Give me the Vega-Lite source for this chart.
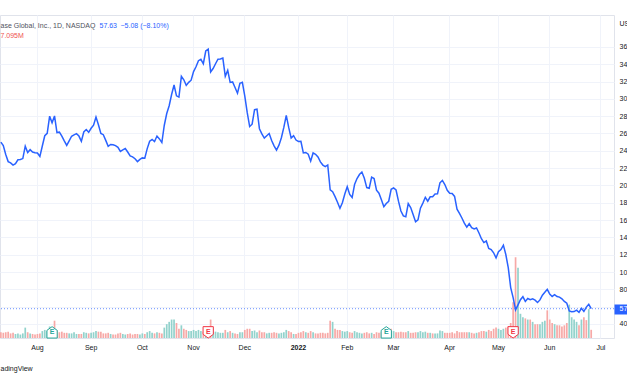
{
  "$schema": "https://vega.github.io/schema/vega-lite/v6.json",
  "autosize": {"type": "none"},
  "width": 614,
  "height": 323,
  "padding": {"left": 0, "top": 15, "right": 13, "bottom": 38},
  "background": "white",
  "config": {
    "font": "Liberation Sans",
    "view": {"stroke": "#e0e3eb", "strokeWidth": 1},
    "axis": {"labelFont": "Liberation Sans", "titleFont": "Liberation Sans"}
  },
  "title": {"text": "ed on TradingView.com, Jun 27, 2022 15:17 UTC", "anchor": "start", "frame": "group", "fontSize": 7, "fontWeight": "normal", "color": "#50535e", "offset": 0, "dy": -3},
  "datasets": {
    "last": [{"c": 57.63}],
    "earn": [
      {"d": "2021-08-10", "r": "beat"},
      {"d": "2021-11-09", "r": "miss"},
      {"d": "2022-02-24", "r": "beat"},
      {"d": "2022-05-10", "r": "miss"}
    ],
    "px": [
      {"d":"2021-07-12","c":250,"v":5,"s":"d"},
      {"d":"2021-07-13","c":246,"v":4.5,"s":"d"},
      {"d":"2021-07-14","c":235.7,"v":5,"s":"d"},
      {"d":"2021-07-15","c":227.5,"v":5.5,"s":"d"},
      {"d":"2021-07-16","c":226,"v":4,"s":"d"},
      {"d":"2021-07-19","c":223.5,"v":4.5,"s":"d"},
      {"d":"2021-07-20","c":225.1,"v":3.5,"s":"u"},
      {"d":"2021-07-21","c":229.6,"v":4,"s":"u"},
      {"d":"2021-07-22","c":229.9,"v":3,"s":"u"},
      {"d":"2021-07-23","c":231,"v":4,"s":"u"},
      {"d":"2021-07-26","c":245.3,"v":9,"s":"u"},
      {"d":"2021-07-27","c":238,"v":5,"s":"d"},
      {"d":"2021-07-28","c":241.3,"v":4,"s":"u"},
      {"d":"2021-07-29","c":238.5,"v":3.5,"s":"d"},
      {"d":"2021-07-30","c":237.8,"v":3,"s":"d"},
      {"d":"2021-08-02","c":237.4,"v":3.5,"s":"d"},
      {"d":"2021-08-03","c":233.4,"v":4,"s":"d"},
      {"d":"2021-08-04","c":245.5,"v":6,"s":"u"},
      {"d":"2021-08-05","c":257.4,"v":7,"s":"u"},
      {"d":"2021-08-06","c":260.2,"v":6,"s":"u"},
      {"d":"2021-08-09","c":280,"v":10,"s":"u"},
      {"d":"2021-08-10","c":272.4,"v":8,"s":"d"},
      {"d":"2021-08-11","c":280.2,"v":15,"s":"d"},
      {"d":"2021-08-12","c":261,"v":7,"s":"d"},
      {"d":"2021-08-13","c":261.5,"v":5,"s":"d"},
      {"d":"2021-08-16","c":257,"v":5.5,"s":"d"},
      {"d":"2021-08-17","c":251.5,"v":4.5,"s":"d"},
      {"d":"2021-08-18","c":246.3,"v":4.5,"s":"d"},
      {"d":"2021-08-19","c":251.5,"v":4,"s":"u"},
      {"d":"2021-08-20","c":256.8,"v":4,"s":"u"},
      {"d":"2021-08-23","c":258.4,"v":5,"s":"u"},
      {"d":"2021-08-24","c":259.8,"v":3.5,"s":"u"},
      {"d":"2021-08-25","c":257,"v":3.5,"s":"d"},
      {"d":"2021-08-26","c":251,"v":3.5,"s":"d"},
      {"d":"2021-08-27","c":261.7,"v":5,"s":"u"},
      {"d":"2021-08-30","c":264.5,"v":4.5,"s":"u"},
      {"d":"2021-08-31","c":261.3,"v":4,"s":"d"},
      {"d":"2021-09-01","c":266,"v":4.5,"s":"u"},
      {"d":"2021-09-02","c":269.5,"v":5,"s":"u"},
      {"d":"2021-09-03","c":279,"v":6,"s":"u"},
      {"d":"2021-09-07","c":270,"v":5.5,"s":"d"},
      {"d":"2021-09-08","c":260,"v":5.5,"s":"d"},
      {"d":"2021-09-09","c":258.6,"v":4,"s":"d"},
      {"d":"2021-09-10","c":252,"v":4,"s":"d"},
      {"d":"2021-09-13","c":245.2,"v":4.5,"s":"d"},
      {"d":"2021-09-14","c":247.3,"v":3.5,"s":"u"},
      {"d":"2021-09-15","c":247,"v":3,"s":"d"},
      {"d":"2021-09-16","c":246,"v":3,"s":"d"},
      {"d":"2021-09-17","c":244,"v":4,"s":"d"},
      {"d":"2021-09-20","c":239.3,"v":4.5,"s":"d"},
      {"d":"2021-09-21","c":241,"v":3.5,"s":"u"},
      {"d":"2021-09-22","c":242.6,"v":3,"s":"u"},
      {"d":"2021-09-23","c":238.6,"v":3.5,"s":"d"},
      {"d":"2021-09-24","c":234,"v":4,"s":"d"},
      {"d":"2021-09-27","c":233,"v":3,"s":"d"},
      {"d":"2021-09-28","c":230.8,"v":3.5,"s":"d"},
      {"d":"2021-09-29","c":227.5,"v":3.5,"s":"d"},
      {"d":"2021-09-30","c":230,"v":3,"s":"u"},
      {"d":"2021-10-01","c":231.8,"v":4,"s":"u"},
      {"d":"2021-10-04","c":231.5,"v":3.5,"s":"d"},
      {"d":"2021-10-05","c":242.5,"v":5,"s":"u"},
      {"d":"2021-10-06","c":251,"v":6,"s":"u"},
      {"d":"2021-10-07","c":253,"v":4.5,"s":"u"},
      {"d":"2021-10-08","c":250.6,"v":4,"s":"d"},
      {"d":"2021-10-11","c":257,"v":5,"s":"u"},
      {"d":"2021-10-12","c":253.7,"v":4.5,"s":"d"},
      {"d":"2021-10-13","c":249.5,"v":4,"s":"d"},
      {"d":"2021-10-14","c":269.5,"v":9,"s":"u"},
      {"d":"2021-10-15","c":283,"v":12,"s":"u"},
      {"d":"2021-10-18","c":292,"v":14,"s":"u"},
      {"d":"2021-10-19","c":305,"v":16,"s":"u"},
      {"d":"2021-10-20","c":316,"v":16,"s":"u"},
      {"d":"2021-10-21","c":303.5,"v":13,"s":"d"},
      {"d":"2021-10-22","c":302,"v":8,"s":"d"},
      {"d":"2021-10-25","c":326,"v":11,"s":"u"},
      {"d":"2021-10-26","c":322,"v":8,"s":"d"},
      {"d":"2021-10-27","c":315.5,"v":7,"s":"d"},
      {"d":"2021-10-28","c":319,"v":6,"s":"u"},
      {"d":"2021-10-29","c":321.5,"v":6,"s":"u"},
      {"d":"2021-11-01","c":331.5,"v":7,"s":"u"},
      {"d":"2021-11-02","c":337,"v":6,"s":"u"},
      {"d":"2021-11-03","c":344,"v":7,"s":"u"},
      {"d":"2021-11-04","c":345.6,"v":6,"s":"u"},
      {"d":"2021-11-05","c":340.5,"v":5.5,"s":"d"},
      {"d":"2021-11-08","c":355.2,"v":7,"s":"u"},
      {"d":"2021-11-09","c":357.4,"v":8,"s":"u"},
      {"d":"2021-11-10","c":331,"v":16,"s":"d"},
      {"d":"2021-11-11","c":335,"v":8,"s":"u"},
      {"d":"2021-11-12","c":340.5,"v":5.5,"s":"u"},
      {"d":"2021-11-15","c":345.8,"v":5,"s":"u"},
      {"d":"2021-11-16","c":346,"v":4.5,"s":"u"},
      {"d":"2021-11-17","c":347,"v":4.5,"s":"u"},
      {"d":"2021-11-18","c":326,"v":7,"s":"d"},
      {"d":"2021-11-19","c":333,"v":5,"s":"u"},
      {"d":"2021-11-22","c":319,"v":6,"s":"d"},
      {"d":"2021-11-23","c":319.5,"v":4.5,"s":"u"},
      {"d":"2021-11-24","c":313,"v":4,"s":"d"},
      {"d":"2021-11-26","c":306.5,"v":3.5,"s":"d"},
      {"d":"2021-11-29","c":318,"v":5,"s":"u"},
      {"d":"2021-11-30","c":319,"v":5,"s":"u"},
      {"d":"2021-12-01","c":303,"v":7,"s":"d"},
      {"d":"2021-12-02","c":284,"v":8,"s":"d"},
      {"d":"2021-12-03","c":268,"v":8,"s":"d"},
      {"d":"2021-12-06","c":270.7,"v":6,"s":"u"},
      {"d":"2021-12-07","c":287.5,"v":6.5,"s":"u"},
      {"d":"2021-12-08","c":288,"v":5,"s":"u"},
      {"d":"2021-12-09","c":265.5,"v":6.5,"s":"d"},
      {"d":"2021-12-10","c":259.5,"v":5,"s":"d"},
      {"d":"2021-12-13","c":254.6,"v":5,"s":"d"},
      {"d":"2021-12-14","c":257.4,"v":4,"s":"u"},
      {"d":"2021-12-15","c":260,"v":4.5,"s":"u"},
      {"d":"2021-12-16","c":251.8,"v":4.5,"s":"d"},
      {"d":"2021-12-17","c":245.7,"v":5,"s":"d"},
      {"d":"2021-12-20","c":240.8,"v":4.5,"s":"d"},
      {"d":"2021-12-21","c":246.5,"v":4,"s":"u"},
      {"d":"2021-12-22","c":255,"v":4.5,"s":"u"},
      {"d":"2021-12-23","c":267,"v":5,"s":"u"},
      {"d":"2021-12-27","c":281,"v":7,"s":"u"},
      {"d":"2021-12-28","c":267,"v":6,"s":"d"},
      {"d":"2021-12-29","c":254.7,"v":5,"s":"d"},
      {"d":"2021-12-30","c":257.5,"v":3.5,"s":"u"},
      {"d":"2021-12-31","c":252.4,"v":3.5,"s":"d"},
      {"d":"2022-01-03","c":250.8,"v":4.5,"s":"d"},
      {"d":"2022-01-04","c":251,"v":5,"s":"d"},
      {"d":"2022-01-05","c":237.5,"v":6,"s":"d"},
      {"d":"2022-01-06","c":238,"v":5,"s":"u"},
      {"d":"2022-01-07","c":236,"v":4.5,"s":"d"},
      {"d":"2022-01-10","c":228,"v":6,"s":"d"},
      {"d":"2022-01-11","c":237.5,"v":5,"s":"u"},
      {"d":"2022-01-12","c":236,"v":4,"s":"d"},
      {"d":"2022-01-13","c":232.8,"v":4,"s":"d"},
      {"d":"2022-01-14","c":227.2,"v":4.5,"s":"d"},
      {"d":"2022-01-18","c":223.5,"v":4.5,"s":"d"},
      {"d":"2022-01-19","c":221.8,"v":4,"s":"d"},
      {"d":"2022-01-20","c":223.6,"v":4.5,"s":"d"},
      {"d":"2022-01-21","c":195,"v":15,"s":"d"},
      {"d":"2022-01-24","c":192.7,"v":14,"s":"u"},
      {"d":"2022-01-25","c":187,"v":8,"s":"d"},
      {"d":"2022-01-26","c":180.5,"v":7,"s":"d"},
      {"d":"2022-01-27","c":173.5,"v":7,"s":"d"},
      {"d":"2022-01-28","c":180,"v":6,"s":"u"},
      {"d":"2022-01-31","c":190,"v":5.5,"s":"u"},
      {"d":"2022-02-01","c":198.5,"v":6,"s":"u"},
      {"d":"2022-02-02","c":189.6,"v":5,"s":"d"},
      {"d":"2022-02-03","c":186,"v":4.5,"s":"d"},
      {"d":"2022-02-04","c":201,"v":6,"s":"u"},
      {"d":"2022-02-07","c":208,"v":5,"s":"u"},
      {"d":"2022-02-08","c":212.6,"v":4.5,"s":"u"},
      {"d":"2022-02-09","c":215.5,"v":4,"s":"u"},
      {"d":"2022-02-10","c":208.2,"v":4.5,"s":"d"},
      {"d":"2022-02-11","c":197.5,"v":5,"s":"d"},
      {"d":"2022-02-14","c":196.7,"v":4,"s":"d"},
      {"d":"2022-02-15","c":209.6,"v":4.5,"s":"u"},
      {"d":"2022-02-16","c":208,"v":3.5,"s":"d"},
      {"d":"2022-02-17","c":194.5,"v":5,"s":"d"},
      {"d":"2022-02-18","c":191,"v":4.5,"s":"d"},
      {"d":"2022-02-22","c":183.5,"v":5,"s":"d"},
      {"d":"2022-02-23","c":175.4,"v":6,"s":"d"},
      {"d":"2022-02-24","c":179.2,"v":8,"s":"u"},
      {"d":"2022-02-25","c":181.7,"v":7,"s":"u"},
      {"d":"2022-02-28","c":195.5,"v":8,"s":"d"},
      {"d":"2022-03-01","c":197.2,"v":6,"s":"u"},
      {"d":"2022-03-02","c":194.7,"v":5,"s":"d"},
      {"d":"2022-03-03","c":181.8,"v":5,"s":"d"},
      {"d":"2022-03-04","c":170.4,"v":5.5,"s":"d"},
      {"d":"2022-03-07","c":164.8,"v":5,"s":"d"},
      {"d":"2022-03-08","c":163.9,"v":5,"s":"d"},
      {"d":"2022-03-09","c":179.1,"v":6,"s":"u"},
      {"d":"2022-03-10","c":174.5,"v":4.5,"s":"d"},
      {"d":"2022-03-11","c":166.3,"v":4.5,"s":"d"},
      {"d":"2022-03-14","c":158,"v":5,"s":"d"},
      {"d":"2022-03-15","c":160.3,"v":5,"s":"u"},
      {"d":"2022-03-16","c":173.7,"v":6,"s":"u"},
      {"d":"2022-03-17","c":179.6,"v":5,"s":"u"},
      {"d":"2022-03-18","c":186.3,"v":5.5,"s":"u"},
      {"d":"2022-03-21","c":181.8,"v":4.5,"s":"d"},
      {"d":"2022-03-22","c":186.9,"v":4.5,"s":"u"},
      {"d":"2022-03-23","c":186.9,"v":4,"s":"d"},
      {"d":"2022-03-24","c":190.2,"v":4,"s":"u"},
      {"d":"2022-03-25","c":190.3,"v":4,"s":"u"},
      {"d":"2022-03-28","c":203,"v":6.5,"s":"u"},
      {"d":"2022-03-29","c":205.8,"v":6,"s":"u"},
      {"d":"2022-03-30","c":201,"v":4.5,"s":"d"},
      {"d":"2022-03-31","c":194.3,"v":4.5,"s":"d"},
      {"d":"2022-04-01","c":191,"v":4.5,"s":"d"},
      {"d":"2022-04-04","c":190.6,"v":5,"s":"d"},
      {"d":"2022-04-05","c":187.3,"v":4,"s":"d"},
      {"d":"2022-04-06","c":172.5,"v":6,"s":"d"},
      {"d":"2022-04-07","c":167.6,"v":5,"s":"d"},
      {"d":"2022-04-08","c":162.4,"v":5,"s":"d"},
      {"d":"2022-04-11","c":156.5,"v":5,"s":"d"},
      {"d":"2022-04-12","c":151.9,"v":5,"s":"d"},
      {"d":"2022-04-13","c":155.8,"v":5,"s":"u"},
      {"d":"2022-04-14","c":151.3,"v":4.5,"s":"d"},
      {"d":"2022-04-18","c":149.7,"v":4,"s":"d"},
      {"d":"2022-04-19","c":150.9,"v":4.5,"s":"u"},
      {"d":"2022-04-20","c":145.1,"v":5,"s":"d"},
      {"d":"2022-04-21","c":138.5,"v":6,"s":"d"},
      {"d":"2022-04-22","c":134,"v":6,"s":"d"},
      {"d":"2022-04-25","c":135.8,"v":5.5,"s":"u"},
      {"d":"2022-04-26","c":127.3,"v":7,"s":"d"},
      {"d":"2022-04-27","c":125.9,"v":6,"s":"d"},
      {"d":"2022-04-28","c":122.2,"v":8,"s":"d"},
      {"d":"2022-04-29","c":116.3,"v":9,"s":"d"},
      {"d":"2022-05-02","c":123.5,"v":8,"s":"u"},
      {"d":"2022-05-03","c":126,"v":7,"s":"u"},
      {"d":"2022-05-04","c":131,"v":8,"s":"u"},
      {"d":"2022-05-05","c":120.2,"v":9,"s":"d"},
      {"d":"2022-05-06","c":105,"v":10,"s":"d"},
      {"d":"2022-05-09","c":82,"v":13,"s":"d"},
      {"d":"2022-05-10","c":70.5,"v":31,"s":"d"},
      {"d":"2022-05-11","c":56.2,"v":70,"s":"d"},
      {"d":"2022-05-12","c":62,"v":61,"s":"u"},
      {"d":"2022-05-13","c":68,"v":21,"s":"u"},
      {"d":"2022-05-16","c":71.5,"v":18,"s":"u"},
      {"d":"2022-05-17","c":66,"v":17,"s":"d"},
      {"d":"2022-05-18","c":69.4,"v":16,"s":"u"},
      {"d":"2022-05-19","c":68,"v":16,"s":"d"},
      {"d":"2022-05-20","c":69,"v":14,"s":"u"},
      {"d":"2022-05-23","c":67.5,"v":12,"s":"d"},
      {"d":"2022-05-24","c":64.8,"v":12,"s":"d"},
      {"d":"2022-05-25","c":67.8,"v":12,"s":"u"},
      {"d":"2022-05-26","c":73.2,"v":14,"s":"u"},
      {"d":"2022-05-27","c":76.7,"v":15,"s":"u"},
      {"d":"2022-05-31","c":80,"v":24,"s":"d"},
      {"d":"2022-06-01","c":74.5,"v":16,"s":"d"},
      {"d":"2022-06-02","c":71.8,"v":13,"s":"d"},
      {"d":"2022-06-03","c":73.8,"v":12,"s":"u"},
      {"d":"2022-06-06","c":71.6,"v":11,"s":"d"},
      {"d":"2022-06-07","c":71,"v":11,"s":"d"},
      {"d":"2022-06-08","c":69,"v":10,"s":"d"},
      {"d":"2022-06-09","c":66,"v":11,"s":"d"},
      {"d":"2022-06-10","c":64,"v":13,"s":"d"},
      {"d":"2022-06-13","c":55,"v":29,"s":"u"},
      {"d":"2022-06-14","c":54.2,"v":18,"s":"u"},
      {"d":"2022-06-15","c":54.3,"v":16,"s":"u"},
      {"d":"2022-06-16","c":56,"v":14,"s":"u"},
      {"d":"2022-06-17","c":53.5,"v":11,"s":"d"},
      {"d":"2022-06-21","c":58,"v":16,"s":"u"},
      {"d":"2022-06-22","c":54.4,"v":18,"s":"d"},
      {"d":"2022-06-23","c":59.5,"v":15.5,"s":"d"},
      {"d":"2022-06-24","c":62.71,"v":25,"s":"u"},
      {"d":"2022-06-27","c":57.63,"v":7.095,"s":"d"}
    ]
  },
  "layer": [
    {
      "data": {"name": "last"},
      "mark": {"type": "rule", "color": "#2962ff", "strokeDash": [1, 2], "strokeWidth": 1, "opacity": 0.7},
      "encoding": {
        "y": {
          "field": "c", "type": "quantitative",
          "scale": {"domain": [23.8, 396.8], "nice": false, "zero": false},
          "axis": {
            "orient": "right", "values": [57.63], "format": ".2f",
            "ticks": true, "tickSize": 20, "tickWidth": 10, "tickColor": "#2962ff", "tickCap": "butt",
            "labelColor": "white", "labelPadding": -15, "labelAlign": "left", "labelBaseline": "middle", "labelFontSize": 7,
            "domain": false, "grid": false,
            "title": "57.63\u2002\u22125.08 (\u22128.10%)", "titleColor": "#2962ff", "titleAngle": 0,
            "titleX": -515, "titleY": 10, "titleAlign": "left", "titleBaseline": "middle", "titleFontSize": 7, "titleFontWeight": "normal"
          }
        }
      }
    },
    {
      "data": {"name": "px"},
      "mark": {"type": "bar"},
      "encoding": {
        "x": {
          "field": "d", "type": "ordinal",
          "scale": {"paddingInner": 0.3, "paddingOuter": 0, "domain": {"unionWith": ["2022-06-28", "2022-06-29", "2022-06-30", "2022-07-01", "2022-07-05", "2022-07-06", "2022-07-07", "2022-07-08", "2022-07-11"]}},
          "axis": {
            "values": ["2021-08-02", "2021-09-01", "2021-10-01", "2021-11-01", "2021-12-01", "2022-01-03", "2022-02-01", "2022-03-01", "2022-04-01", "2022-05-02", "2022-06-01", "2022-07-01"],
            "labelExpr": "datum.value == '2022-01-03' ? '2022' : utcFormat(toDate(datum.value), '%b')",
            "labelFontWeight": {"condition": {"test": "datum.value == '2022-01-03'", "value": "bold"}, "value": "normal"},
            "labelAngle": 0, "labelFontSize": 7, "labelColor": "#131722", "labelPadding": 5, "labelOverlap": false,
            "ticks": false, "domain": false, "grid": true, "gridColor": "#f0f3fa", "bandPosition": 0.5,
            "title": "adingView", "titleFontSize": 7, "titleFontWeight": "normal", "titleColor": "#131722",
            "titleX": 0, "titleY": 30, "titleAlign": "left", "titleBaseline": "middle", "titleAnchor": "start"
          }
        },
        "y": {
          "field": "v", "type": "quantitative",
          "scale": {"domain": [0, 280], "nice": false},
          "axis": {
            "orient": "left", "labels": false, "ticks": false, "domain": false, "grid": false,
            "title": "7.095M", "titleColor": "#ef5350", "titleAngle": 0, "titleX": 0, "titleY": 20,
            "titleAlign": "left", "titleBaseline": "middle", "titleFontSize": 7, "titleFontWeight": "normal"
          }
        },
        "color": {"field": "s", "type": "nominal", "scale": {"domain": ["u", "d"], "range": ["#92d2cc", "#f7a9a7"]}, "legend": null}
      }
    },
    {
      "data": {"name": "earn"},
      "encoding": {
        "x": {"field": "d", "type": "ordinal", "axis": null},
        "y": {
          "datum": 4.9, "type": "quantitative",
          "scale": {"domain": [0, 280], "nice": false},
          "axis": {
            "orient": "left", "labels": false, "ticks": false, "domain": false, "grid": false,
            "title": "ase Global, Inc., 1D, NASDAQ", "titleColor": "#50535e", "titleAngle": 0, "titleX": 0, "titleY": 10,
            "titleAlign": "left", "titleBaseline": "middle", "titleFontSize": 7, "titleFontWeight": "normal"
          }
        }
      },
      "layer": [
        {
          "mark": {"type": "point", "filled": true, "fill": "white", "fillOpacity": 1, "opacity": 1, "size": 130, "strokeWidth": 1},
          "encoding": {
            "shape": {"field": "r", "type": "nominal", "scale": {"domain": ["beat", "miss"], "range": ["M-0.9,-0.35L0,-1L0.9,-0.35L0.9,1L-0.9,1Z", "M-0.9,-1L0.9,-1L0.9,0.35L0,1L-0.9,0.35Z"]}, "legend": null},
            "stroke": {"condition": {"test": "datum.r == 'beat'", "value": "#26a69a"}, "value": "#f23645"}
          }
        },
        {
          "mark": {"type": "text", "fontSize": 7, "fontWeight": "bold", "baseline": "middle", "align": "center"},
          "encoding": {
            "text": {"value": "E"},
            "color": {"condition": {"test": "datum.r == 'beat'", "value": "#26a69a"}, "value": "#f23645"}
          }
        }
      ]
    },
    {
      "data": {"name": "px"},
      "mark": {"type": "line", "color": "#2962ff", "strokeWidth": 1.5},
      "encoding": {
        "x": {
          "field": "d", "type": "ordinal",
          "axis": {"offset": 17, "domain": true, "domainColor": "#e0e3eb", "labels": false, "ticks": false, "grid": false, "title": null}
        },
        "y": {
          "field": "c", "type": "quantitative",
          "scale": {"domain": [23.8, 396.8], "nice": false, "zero": false},
          "axis": {
            "orient": "right", "values": [40, 60, 80, 100, 120, 140, 160, 180, 200, 220, 240, 260, 280, 300, 320, 340, 360],
            "labelExpr": "datum.value == 60 ? '' : datum.label", "format": "d",
            "labelAlign": "left", "labelBaseline": "middle", "labelPadding": 5, "labelFontSize": 7, "labelColor": "#131722",
            "ticks": false, "domain": false, "grid": true, "gridColor": "#f0f3fa",
            "title": "USD", "titleAngle": 0, "titleX": 5, "titleY": 8, "titleAlign": "left", "titleBaseline": "middle",
            "titleFontSize": 7, "titleFontWeight": "normal", "titleColor": "#131722"
          }
        }
      }
    }
  ],
  "resolve": {"scale": {"y": "independent"}, "axis": {"x": "independent", "y": "independent"}}
}
